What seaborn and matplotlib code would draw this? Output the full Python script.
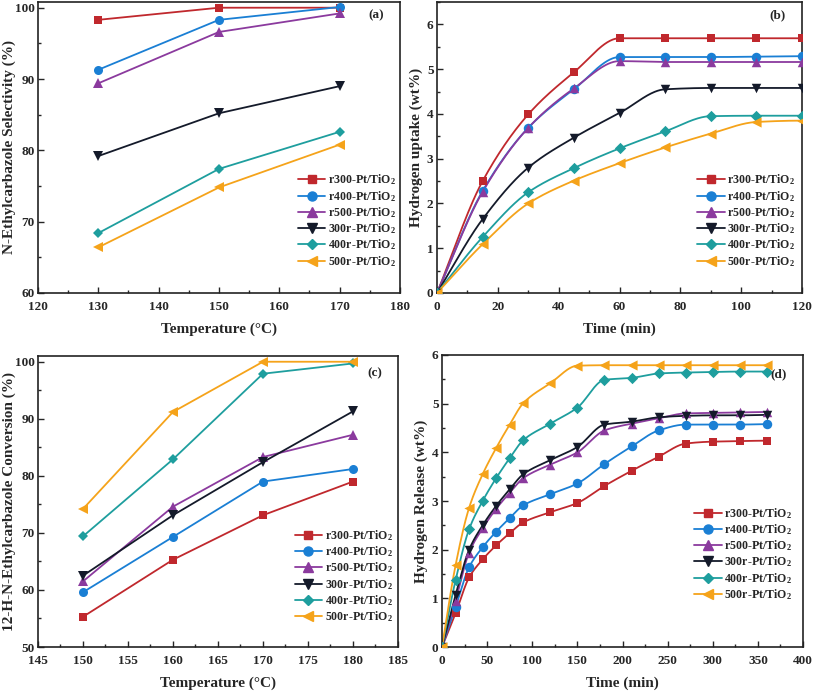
import numpy as np
import matplotlib
matplotlib.use('Agg')
import matplotlib.pyplot as plt
import seaborn as sns
from matplotlib.lines import Line2D
from matplotlib.ticker import MultipleLocator

sns.set_style('ticks')
plt.rcParams['font.family'] = ['Liberation Serif', 'DejaVu Serif']
plt.rcParams['font.weight'] = 'bold'
plt.rcParams['axes.labelweight'] = 'bold'
plt.rcParams['mathtext.default'] = 'regular'
plt.rcParams['xtick.direction'] = 'in'
plt.rcParams['ytick.direction'] = 'in'

# ---- series ----
names = ['r300-Pt/TiO$_2$', 'r400-Pt/TiO$_2$', 'r500-Pt/TiO$_2$',
         '300r-Pt/TiO$_2$', '400r-Pt/TiO$_2$', '500r-Pt/TiO$_2$']
colors = ['#C0282D', '#1A7FD4', '#8B3A9E', '#141A2A', '#1E9E9E', '#F5A31A']
markers = ['s', 'o', '^', 'v', 'D', '<']
msizes = [6, 6.5, 6.5, 6.5, 5.5, 7]

# (a) selectivity vs temperature
temp_a = [130, 150, 170]
sel_a = [
    [98.3, 100.0, 100.0],
    [91.3, 98.3, 100.1],
    [89.4, 96.6, 99.2],
    [79.2, 85.2, 89.0],
    [68.4, 77.4, 82.6],
    [66.4, 74.8, 80.8],
]

# (b) hydrogen uptake vs time
time_b = [0, 15, 30, 45, 60, 75, 90, 105, 120]
uptake_b = [
    [0, 2.50, 3.99, 4.93, 5.69, 5.69, 5.69, 5.69, 5.69],
    [0, 2.28, 3.69, 4.55, 5.27, 5.27, 5.27, 5.28, 5.29],
    [0, 2.26, 3.69, 4.57, 5.18, 5.16, 5.16, 5.16, 5.16],
    [0, 1.65, 2.80, 3.47, 4.02, 4.55, 4.58, 4.58, 4.58],
    [0, 1.25, 2.25, 2.79, 3.23, 3.61, 3.95, 3.96, 3.96],
    [0, 1.09, 2.00, 2.51, 2.90, 3.25, 3.56, 3.82, 3.85],
]

# (c) conversion vs temperature
temp_c = [150, 160, 170, 180]
conv_c = [
    [55.3, 65.3, 73.1, 79.0],
    [59.6, 69.3, 79.0, 81.2],
    [61.5, 74.6, 83.3, 87.2],
    [62.5, 73.1, 82.4, 91.3],
    [69.4, 82.9, 97.9, 99.7],
    [74.2, 91.2, 100.0, 100.0],
]

# (d) hydrogen release vs time
time_d = [0, 15, 30, 45, 60, 75, 90, 120, 150, 180, 210, 240, 270, 300, 330, 360]
release_d = [
    [0, 0.69, 1.43, 1.80, 2.09, 2.34, 2.56, 2.77, 2.96, 3.31, 3.62, 3.91, 4.18, 4.22, 4.23, 4.24],
    [0, 0.82, 1.64, 2.05, 2.37, 2.65, 2.91, 3.14, 3.36, 3.76, 4.12, 4.45, 4.57, 4.57, 4.57, 4.58],
    [0, 0.95, 1.94, 2.44, 2.84, 3.17, 3.47, 3.75, 4.00, 4.45, 4.59, 4.70, 4.80, 4.81, 4.82, 4.83],
    [0, 1.07, 2.00, 2.50, 2.90, 3.24, 3.55, 3.84, 4.11, 4.57, 4.63, 4.72, 4.75, 4.76, 4.76, 4.77],
    [0, 1.37, 2.42, 3.00, 3.47, 3.88, 4.25, 4.59, 4.92, 5.49, 5.53, 5.62, 5.64, 5.65, 5.66, 5.66],
    [0, 1.68, 2.86, 3.55, 4.09, 4.57, 5.01, 5.42, 5.78, 5.79, 5.79, 5.79, 5.79, 5.79, 5.79, 5.79],
]

fs_tick = 9.5
fs_lab = 11.
fs_leg = 8.6


def pchip(x, y, xs):
    # smooth monotone curve through the measured points
    x = np.asarray(x, float)
    y = np.asarray(y, float)
    h = np.diff(x)
    d = np.diff(y) / h
    m = np.zeros_like(y)
    for k in range(1, len(x) - 1):
        if d[k - 1] * d[k] > 0:
            w1 = 2 * h[k] + h[k - 1]
            w2 = h[k] + 2 * h[k - 1]
            m[k] = (w1 + w2) / (w1 / d[k - 1] + w2 / d[k])
    m[0] = d[0]
    m[-1] = d[-1] if abs(d[-1]) > 0.05 else 0.
    idx = np.clip(np.searchsorted(x, xs) - 1, 0, len(x) - 2)
    t = (xs - x[idx]) / h[idx]
    h00 = 2 * t**3 - 3 * t**2 + 1
    h10 = t**3 - 2 * t**2 + t
    h01 = -2 * t**3 + 3 * t**2
    h11 = t**3 - t**2
    return (h00 * y[idx] + h10 * h[idx] * m[idx]
            + h01 * y[idx + 1] + h11 * h[idx] * m[idx + 1])


def style_ax(ax, xlim, ylim, xmaj, ymaj, xlabel, ylabel, tag, tag_y,
             ylab_x=None):
    ax.set_xlim(*xlim)
    ax.set_ylim(*ylim)
    ax.xaxis.set_major_locator(MultipleLocator(xmaj))
    ax.xaxis.set_minor_locator(MultipleLocator(xmaj / 2.))
    ax.yaxis.set_major_locator(MultipleLocator(ymaj))
    ax.yaxis.set_minor_locator(MultipleLocator(ymaj / 2.))
    ax.tick_params(which='major', length=4, width=1, labelsize=fs_tick)
    ax.tick_params(axis='y', which='major', pad=2.5)
    ax.tick_params(axis='x', which='major', pad=5.5)
    ax.tick_params(which='minor', length=2.5, width=1)
    for lab in ax.get_xticklabels() + ax.get_yticklabels():
        lab.set_fontweight('bold')
    for sp in ax.spines.values():
        sp.set_visible(True)
        sp.set_linewidth(1.2)
        sp.set_color('#222222')
    ax.set_xlabel(xlabel, fontsize=fs_lab, fontweight='bold', labelpad=7)
    ax.set_ylabel(ylabel, fontsize=fs_lab, fontweight='bold', labelpad=3)
    if ylab_x is not None:
        ax.yaxis.set_label_coords(ylab_x, 0.5)
    ax.text(0.955, tag_y, tag, transform=ax.transAxes, ha='right', va='top',
            fontsize=9.5, fontweight='bold')


def add_legend(ax, anchor):
    handles = [Line2D([], [], color=c, marker=m, markersize=ms, lw=1.3)
               for c, m, ms in zip(colors, markers, msizes)]
    ax.legend(handles, names, loc='upper left', bbox_to_anchor=anchor,
              frameon=False, fontsize=fs_leg, handlelength=2.3,
              handletextpad=0.2, labelspacing=0.12, borderaxespad=0.)


def straight_panel(ax, xs, series):
    for ys, c, m, ms in zip(series, colors, markers, msizes):
        sns.lineplot(x=xs, y=ys, color=c, marker=m, markersize=ms,
                     markeredgewidth=0, lw=1.3, ax=ax, legend=False)


def smooth_panel(ax, xs, series):
    xd = np.linspace(xs[0], xs[-1], 400)
    for ys, c, m, ms in zip(series, colors, markers, msizes):
        sns.lineplot(x=xd, y=pchip(xs, ys, xd), color=c, lw=1.3, ax=ax,
                     legend=False)
        sns.scatterplot(x=xs, y=ys, color=c, marker=m, s=ms**2 * 1.1,
                        linewidth=0, ax=ax, legend=False, zorder=3)


fig = plt.figure(figsize=(8.13, 6.92), dpi=100)
ax_a = fig.add_axes([0.0467, 0.5766, 0.4453, 0.4205])
ax_b = fig.add_axes([0.5375, 0.5766, 0.449, 0.4205])
ax_c = fig.add_axes([0.0467, 0.065, 0.4428, 0.4205])
ax_d = fig.add_axes([0.5437, 0.065, 0.444, 0.422])

straight_panel(ax_a, temp_a, sel_a)
style_ax(ax_a, (120, 180), (60, 100.8), 10, 10, 'Temperature (°C)',
         'N-Ethylcarbazole Selectivity (%)', '(a)', 0.975, ylab_x=-0.062)
add_legend(ax_a, (0.705, 0.43))

smooth_panel(ax_b, time_b, uptake_b)
style_ax(ax_b, (0, 120), (0, 6.5), 20, 1, 'Time (min)',
         'Hydrogen uptake (wt%)', '(b)', 0.975)
add_legend(ax_b, (0.70, 0.43))

straight_panel(ax_c, temp_c, conv_c)
style_ax(ax_c, (145, 185), (50, 101), 5, 10, 'Temperature (°C)',
         '12-H-N-Ethylcarbazole Conversion (%)', '(c)', 0.962, ylab_x=-0.062)
add_legend(ax_c, (0.70, 0.425))

smooth_panel(ax_d, time_d, release_d)
style_ax(ax_d, (0, 400), (0, 6), 50, 1, 'Time (min)',
         'Hydrogen Release (wt%)', '(d)', 0.955)
add_legend(ax_d, (0.685, 0.50))

fig.savefig('out.png', dpi=100)
